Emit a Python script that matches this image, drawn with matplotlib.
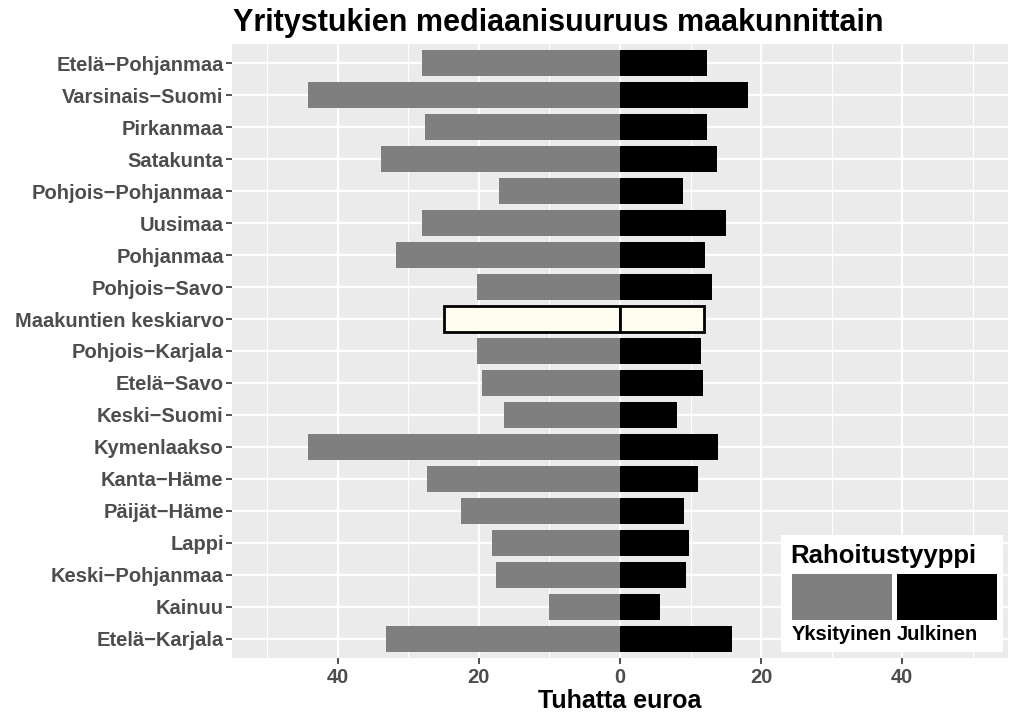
import matplotlib
matplotlib.use("Agg")
import matplotlib.pyplot as plt
from matplotlib.patches import Rectangle
import numpy as np

plt.rcParams["font.family"] = ["Liberation Sans", "DejaVu Sans"]

# top to bottom as shown
regions = [
    "Etelä−Pohjanmaa", "Varsinais−Suomi", "Pirkanmaa", "Satakunta",
    "Pohjois−Pohjanmaa", "Uusimaa", "Pohjanmaa", "Pohjois−Savo",
    "Maakuntien keskiarvo", "Pohjois−Karjala", "Etelä−Savo", "Keski−Suomi",
    "Kymenlaakso", "Kanta−Häme", "Päijät−Häme", "Lappi",
    "Keski−Pohjanmaa", "Kainuu", "Etelä−Karjala",
]
# median support, thousand euros
private = [28.1, 44.2, 27.6, 33.9, 17.1, 28.0, 31.8, 20.3, 25.0, 20.3,
           19.5, 16.4, 44.2, 27.3, 22.5, 18.2, 17.6, 10.0, 33.2]
public = [12.4, 18.1, 12.4, 13.8, 9.0, 15.0, 12.1, 13.0, 11.9, 11.5,
          11.8, 8.1, 13.9, 11.0, 9.1, 9.8, 9.4, 5.7, 15.9]
avg_label = "Maakuntien keskiarvo"

legend_title = "Rahoitustyyppi"
legend_labels = ["Yksityinen", "Julkinen"]
x_ticks = [-40, -20, 0, 20, 40]

GREY = "#7F7F7F"
PANEL = "#EBEBEB"
TEXT = "#4D4D4D"

fig = plt.figure(figsize=(10.24, 7.19), dpi=100)
ax = fig.add_axes([232 / 1024, 1 - 658 / 719, (1008 - 232) / 1024, (658 - 44) / 719])
ax.set_facecolor(PANEL)

y = np.arange(len(regions))
priv = -np.array(private)
pub = np.array(public)
is_avg = np.array([r == avg_label for r in regions])

ax.barh(y[~is_avg], priv[~is_avg], height=0.8, color=GREY, zorder=2)
ax.barh(y[~is_avg], pub[~is_avg], height=0.8, color="black", zorder=2)
ax.barh(y[is_avg], priv[is_avg], height=0.8, color="#FFFDF0",
        edgecolor="black", linewidth=2, zorder=2)
ax.barh(y[is_avg], pub[is_avg], height=0.8, color="#FFFDF0",
        edgecolor="black", linewidth=2, zorder=2)

ax.set_xlim(-55, 55)
ax.set_ylim(len(regions) - 0.4, -0.6)
ax.set_yticks(y)
ax.set_yticklabels(regions)
ax.set_xticks(x_ticks)
ax.set_xticklabels([str(abs(t)) for t in x_ticks])
ax.set_xticks([-50, -30, -10, 10, 30, 50], minor=True)

ax.grid(True, which="major", color="white", linewidth=1.6, zorder=0)
ax.grid(True, which="minor", axis="x", color="white", linewidth=0.8, zorder=0)
ax.set_axisbelow(True)
for s in ax.spines.values():
    s.set_visible(False)
ax.tick_params(axis="y", which="major", colors="#333333", length=4,
               width=1.2, labelcolor=TEXT, labelsize=14.5, pad=2)
ax.tick_params(axis="x", which="major", colors="#333333", length=4,
               width=1.2, labelcolor=TEXT, labelsize=14.5, pad=3)
ax.tick_params(axis="both", which="minor", length=0)
for lab in ax.get_xticklabels() + ax.get_yticklabels():
    lab.set_fontweight("bold")

ax.set_xlabel("Tuhatta euroa", fontsize=18, fontweight="bold", labelpad=2)
fig.text(0.545, 0.968, "Yritystukien mediaanisuuruus maakunnittain",
         fontsize=22, fontweight="bold", ha="center", va="center")

# legend drawn in figure pixels, bottom-right inside the panel
def px(x0, y0):
    return x0 / 1024, 1 - y0 / 719

lx0, ly0, lx1, ly1 = 781, 535, 1003, 652
fig.patches.append(Rectangle(px(lx0, ly1), (lx1 - lx0) / 1024, (ly1 - ly0) / 719,
                             transform=fig.transFigure, facecolor="white",
                             edgecolor="none", zorder=5))
fig.text(*px(790, 556), legend_title, fontsize=18.5, fontweight="bold",
         ha="left", va="center", zorder=6)
for i, (lab, col) in enumerate(zip(legend_labels, [GREY, "black"])):
    kx = 792 + i * 105
    fig.patches.append(Rectangle(px(kx, 620), 100 / 1024, 46 / 719,
                                 transform=fig.transFigure, facecolor=col,
                                 edgecolor="none", zorder=6))
    fig.text(*px(kx, 635), lab, fontsize=14.5, fontweight="bold",
             ha="left", va="center", zorder=6)

fig.savefig("out.png", dpi=100)
